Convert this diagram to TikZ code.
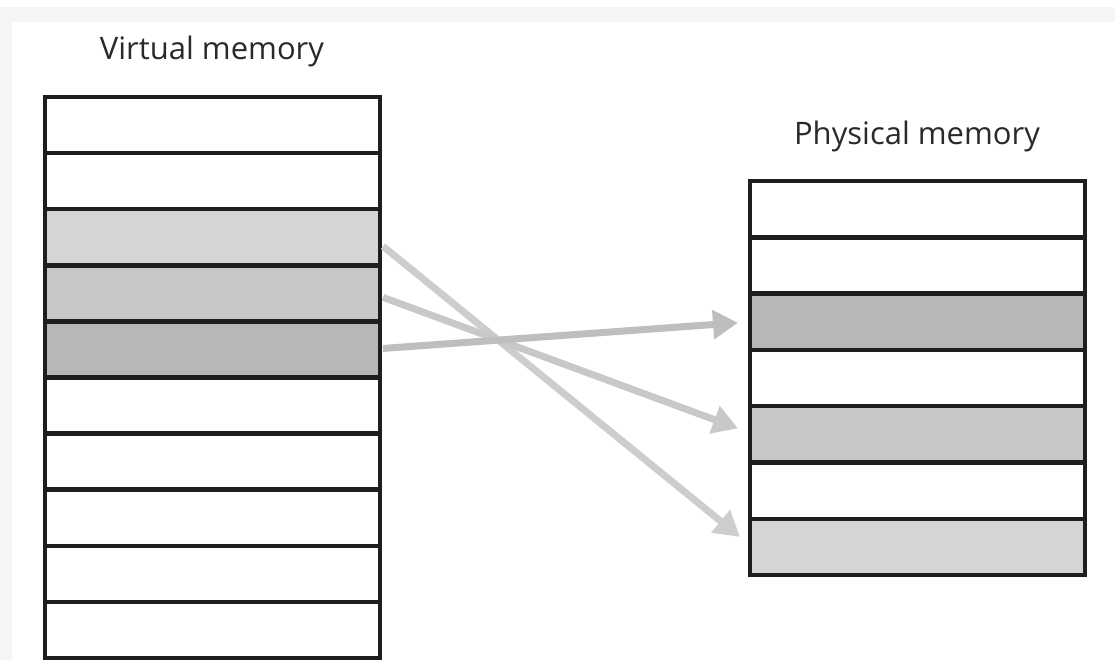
\documentclass[tikz,border=0pt]{standalone}
\usepackage{fontspec}
\setsansfont{Open Sans}
\usetikzlibrary{arrows.meta}
\definecolor{framegray}{HTML}{F5F5F5}
\definecolor{cellborder}{HTML}{1E1E1E}
\definecolor{lightcell}{HTML}{D5D5D6}
\definecolor{midcell}{HTML}{C8C8C8}
\definecolor{darkcell}{HTML}{B7B7B7}
\definecolor{titlegray}{HTML}{2A2A2A}
\begin{document}
\begin{tikzpicture}[x=1pt, y=-1pt,
    cell/.style={draw=cellborder, line width=4.5pt, minimum width=335pt, inner sep=0pt, outer sep=0pt},
    mapping/.style={line width=7pt, -{Triangle[length=25pt, width=28pt]}},
    title/.style={font=\sffamily\fontsize{31}{36}\selectfont, text=titlegray, anchor=base}]
    \useasboundingbox (0,0) rectangle (1115,660);
    \fill[framegray] (0,7) rectangle (1115,660);
    \fill[white] (12,22) rectangle (1115,660);

    % virtual memory
    \node[title] (vlabel) at (212,60) {Virtual memory};
    \foreach \i/\c in {1/white, 2/white, 3/lightcell, 4/midcell, 5/darkcell,
                       6/white, 7/white, 8/white, 9/white, 10/white}
        \node[cell, fill=\c, minimum height=56.1pt] (v\i) at (212.5, {97+56.1*(\i-0.5)}) {};

    % physical memory
    \node[title] (plabel) at (917,145) {Physical memory};
    \foreach \i/\c in {1/white, 2/white, 3/darkcell, 4/white, 5/midcell,
                       6/white, 7/lightcell}
        \node[cell, fill=\c, minimum height=56.3pt] (p\i) at (917.5, {181+56.3*(\i-0.5)}) {};

    % page mapping
    \draw[mapping, lightcell!90!gray] ([xshift=3pt, yshift=-9pt]v3.east) -- ([xshift=-10pt, yshift=10pt]p7.west);
    \draw[mapping, midcell] ([xshift=3pt, yshift=-4pt]v4.east) -- ([xshift=-12pt, yshift=6pt]p5.west);
    \draw[mapping, darkcell!90!white] ([xshift=3pt, yshift=1pt]v5.east) -- ([xshift=-12pt, yshift=-1pt]p3.west);
\end{tikzpicture}
\end{document}
